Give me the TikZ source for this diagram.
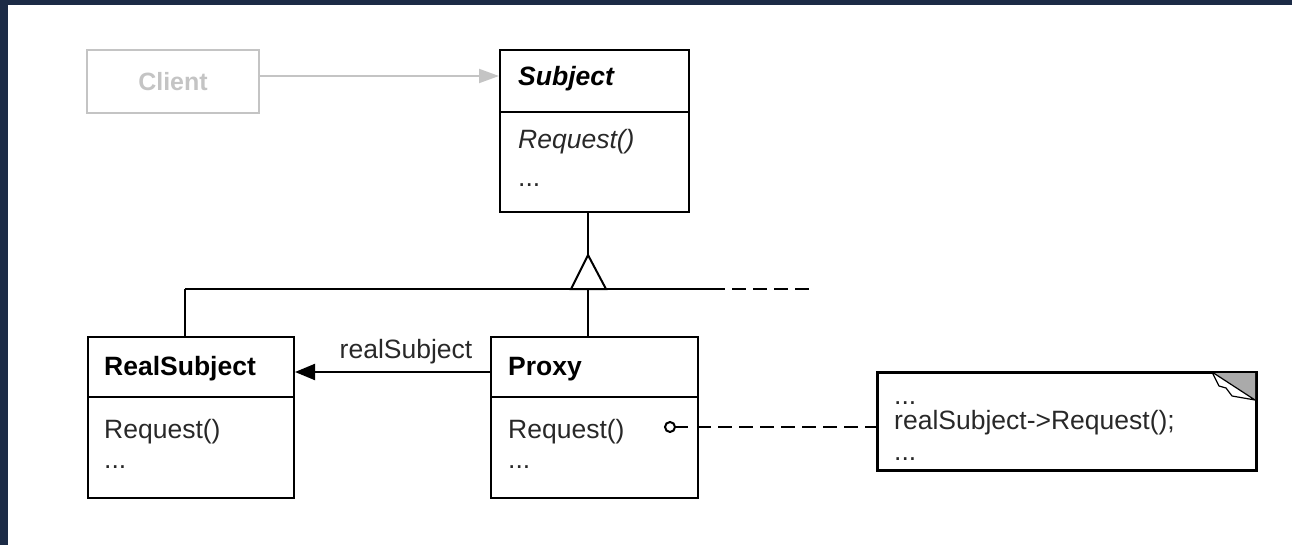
\documentclass[tikz,border=0pt]{standalone}
\usepackage{fontspec}
\setmainfont{Liberation Sans}
\usetikzlibrary{arrows.meta,calc}
\definecolor{navy}{RGB}{28,43,70}
\definecolor{ltgray}{RGB}{196,196,196}
\definecolor{foldgray}{RGB}{170,170,170}
\definecolor{txt}{RGB}{40,40,40}
\begin{document}
\begin{tikzpicture}[x=1pt,y=-1pt,
  box/.style={draw=black,line width=2pt,rectangle,anchor=north west,inner sep=0pt},
  lbl/.style={anchor=base west,inner sep=0pt,text=txt,font=\fontsize{26.5}{30}\selectfont},
  conn/.style={draw=black,line width=2pt},
  dashconn/.style={conn,dash pattern=on 14pt off 7pt}]
\useasboundingbox (0,0) rectangle (1292,545);
\fill[navy] (0,0) rectangle (1292,5);
\fill[navy] (0,0) rectangle (8,545);
% Client
\node[box,draw=ltgray,minimum width=172pt,minimum height=63pt] (client) at (86,49) {};
\node[anchor=center,inner sep=0pt,text=ltgray,font=\fontsize{25}{30}\selectfont\bfseries] (clienttxt) at (client.center) {Client};
% Subject
\node[box,minimum width=189pt,minimum height=162pt] (subject) at (499,49) {};
\draw[conn] (subject.west |- 0,112) coordinate (sdl) -- (subject.east |- 0,112) coordinate (sdr);
\node[lbl,font=\fontsize{26.5}{30}\selectfont\bfseries\itshape,text=black] (subjname) at (518,86) {Subject};
\node[lbl,font=\fontsize{26.5}{30}\selectfont\itshape] (subjreq) at (518,149) {Request()};
\node[lbl] (subjdots) at (518,187) {...};
% RealSubject
\node[box,minimum width=206pt,minimum height=161pt] (real) at (87,336) {};
\draw[conn] (real.west |- 0,397) -- (real.east |- 0,397);
\node[lbl,font=\fontsize{26.5}{30}\selectfont\bfseries,text=black] (realname) at (104,375) {RealSubject};
\node[lbl] (realreq) at (104,438) {Request()};
\node[lbl] (realdots) at (104,468) {...};
% Proxy
\node[box,minimum width=207pt,minimum height=161pt] (proxy) at (490,336) {};
\draw[conn] (proxy.west |- 0,397) -- (proxy.east |- 0,397);
\node[lbl,font=\fontsize{26.5}{30}\selectfont\bfseries,text=black] (proxyname) at (508,375) {Proxy};
\node[lbl] (proxyreq) at (508,438) {Request()};
\node[lbl] (proxydots) at (508,468) {...};
% Note
\node[box,minimum width=378pt,minimum height=97pt] (note) at (877,372) {};
\fill[foldgray] (1212,372) -- (1255,372) -- (1255,400) -- cycle;
\draw[black,line width=1.2pt,fill=white,line join=round] (1212,372) -- (1255,400) -- (1232,396) -- (1226,388) -- (1219,386) -- cycle;
\draw[conn] (note.north west) rectangle (note.south east);
\node[lbl] (notedots1) at (894,404) {...};
\node[lbl] (notecode) at (894,429) {realSubject->Request();};
\node[lbl] (notedots2) at (894,460) {...};
% Client -> Subject
\coordinate (cy) at (0,76);
\draw[line width=2pt,draw=ltgray,-{Triangle[length=20pt,width=14pt,fill=ltgray]}] (client.east |- cy) -- (subject.west |- cy);
% Inheritance
\coordinate (tritop) at (588,255);
\coordinate (tribase) at (588,289);
\draw[conn] (subject.south -| tritop) -- (tritop);
\draw[conn,line join=miter] (tritop) -- (571,289) -- (606,289) -- cycle;
\coordinate (hl) at (185,289);
\coordinate (hr) at (725,289);
\coordinate (hds) at (732,289);
\coordinate (hd) at (815,289);
\draw[conn] (hl) -- (hr);
\draw[dashconn] (hds) -- (hd);
\draw[conn] (hl) -- (real.north -| hl);
\draw[conn] (tribase) -- (proxy.north -| tribase);
% realSubject association
\coordinate (ay) at (0,372);
\draw[conn,-{Triangle[length=20pt,width=16pt]}] (proxy.west |- ay) -- (real.east |- ay);
\node[anchor=base,inner sep=0pt,text=txt,font=\fontsize{26.5}{30}\selectfont] (assoclbl) at (406,358) {realSubject};
% Note link
\coordinate (rc) at (670,427);
\draw[line width=2pt] (rc) circle (5pt);
\draw[conn] (675,427) -- (688,427);
\draw[dashconn] (697,427) -- (note.west |- rc);
\end{tikzpicture}
\end{document}
